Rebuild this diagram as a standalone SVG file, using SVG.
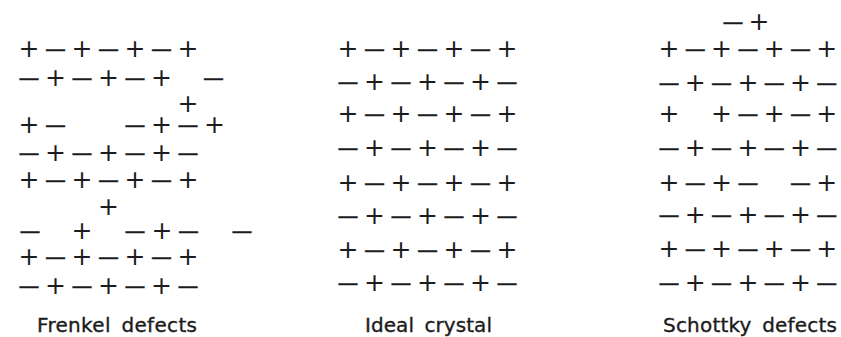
<svg xmlns="http://www.w3.org/2000/svg" width="841" height="337" viewBox="0 0 841 337">
<style>
.p{font-family:"DejaVu Sans",sans-serif;font-size:25px;fill:#1c1c1c;text-anchor:middle}
.m{font-family:"DejaVu Sans",sans-serif;font-size:21px;fill:#1c1c1c;text-anchor:middle;stroke:#1c1c1c;stroke-width:0.3}
.lbl{font-family:"DejaVu Sans",sans-serif;font-size:20px;fill:#1c1c1c;stroke:#1c1c1c;stroke-width:0.35;word-spacing:4px}
</style>
<rect width="841" height="337" fill="#fff"/>
<g id="frenkel">
<g transform="translate(0,48)"><text class="p" x="29" y="8.5">+</text><text class="m" x="55.5" y="7.7">—</text><text class="p" x="82" y="8.5">+</text><text class="m" x="108.5" y="7.7">—</text><text class="p" x="135" y="8.5">+</text><text class="m" x="161.5" y="7.7">—</text><text class="p" x="188" y="8.5">+</text></g>
<g transform="translate(0,77)"><text class="m" x="29" y="7.7">—</text><text class="p" x="55.5" y="8.5">+</text><text class="m" x="82" y="7.7">—</text><text class="p" x="108.5" y="8.5">+</text><text class="m" x="135" y="7.7">—</text><text class="p" x="161.5" y="8.5">+</text><text class="m" x="213.5" y="7.7">—</text></g>
<g transform="translate(0,103)"><text class="p" x="188" y="8.5">+</text></g>
<g transform="translate(0,124)"><text class="p" x="29" y="8.5">+</text><text class="m" x="55.5" y="7.7">—</text><text class="m" x="135" y="7.7">—</text><text class="p" x="161.5" y="8.5">+</text><text class="m" x="188" y="7.7">—</text><text class="p" x="214.5" y="8.5">+</text></g>
<g transform="translate(0,152)"><text class="m" x="29" y="7.7">—</text><text class="p" x="55.5" y="8.5">+</text><text class="m" x="82" y="7.7">—</text><text class="p" x="108.5" y="8.5">+</text><text class="m" x="135" y="7.7">—</text><text class="p" x="161.5" y="8.5">+</text><text class="m" x="188" y="7.7">—</text></g>
<g transform="translate(0,179)"><text class="p" x="29" y="8.5">+</text><text class="m" x="55.5" y="7.7">—</text><text class="p" x="82" y="8.5">+</text><text class="m" x="108.5" y="7.7">—</text><text class="p" x="135" y="8.5">+</text><text class="m" x="161.5" y="7.7">—</text><text class="p" x="188" y="8.5">+</text></g>
<g transform="translate(0,206)"><text class="p" x="108.5" y="8.5">+</text></g>
<g transform="translate(0,230)"><text class="m" x="30" y="7.7">—</text><text class="p" x="82" y="8.5">+</text><text class="m" x="135" y="7.7">—</text><text class="p" x="162" y="8.5">+</text><text class="m" x="188.5" y="7.7">—</text><text class="m" x="242" y="7.7">—</text></g>
<g transform="translate(0,256)"><text class="p" x="29" y="8.5">+</text><text class="m" x="55.5" y="7.7">—</text><text class="p" x="82" y="8.5">+</text><text class="m" x="108.5" y="7.7">—</text><text class="p" x="135" y="8.5">+</text><text class="m" x="161.5" y="7.7">—</text><text class="p" x="188" y="8.5">+</text></g>
<g transform="translate(0,285)"><text class="m" x="29" y="7.7">—</text><text class="p" x="55.5" y="8.5">+</text><text class="m" x="82" y="7.7">—</text><text class="p" x="108.5" y="8.5">+</text><text class="m" x="135" y="7.7">—</text><text class="p" x="161.5" y="8.5">+</text><text class="m" x="188" y="7.7">—</text></g>
<text class="lbl" x="37" y="332" textLength="160" lengthAdjust="spacing">Frenkel defects</text>
</g>
<g id="ideal">
<g transform="translate(0,48)"><text class="p" x="348" y="8.5">+</text><text class="m" x="374.5" y="7.7">—</text><text class="p" x="401" y="8.5">+</text><text class="m" x="427.5" y="7.7">—</text><text class="p" x="454" y="8.5">+</text><text class="m" x="480.5" y="7.7">—</text><text class="p" x="507" y="8.5">+</text></g>
<g transform="translate(0,81)"><text class="m" x="348" y="7.7">—</text><text class="p" x="374.5" y="8.5">+</text><text class="m" x="401" y="7.7">—</text><text class="p" x="427.5" y="8.5">+</text><text class="m" x="454" y="7.7">—</text><text class="p" x="480.5" y="8.5">+</text><text class="m" x="507" y="7.7">—</text></g>
<g transform="translate(0,113)"><text class="p" x="348" y="8.5">+</text><text class="m" x="374.5" y="7.7">—</text><text class="p" x="401" y="8.5">+</text><text class="m" x="427.5" y="7.7">—</text><text class="p" x="454" y="8.5">+</text><text class="m" x="480.5" y="7.7">—</text><text class="p" x="507" y="8.5">+</text></g>
<g transform="translate(0,147)"><text class="m" x="348" y="7.7">—</text><text class="p" x="374.5" y="8.5">+</text><text class="m" x="401" y="7.7">—</text><text class="p" x="427.5" y="8.5">+</text><text class="m" x="454" y="7.7">—</text><text class="p" x="480.5" y="8.5">+</text><text class="m" x="507" y="7.7">—</text></g>
<g transform="translate(0,182)"><text class="p" x="348" y="8.5">+</text><text class="m" x="374.5" y="7.7">—</text><text class="p" x="401" y="8.5">+</text><text class="m" x="427.5" y="7.7">—</text><text class="p" x="454" y="8.5">+</text><text class="m" x="480.5" y="7.7">—</text><text class="p" x="507" y="8.5">+</text></g>
<g transform="translate(0,215)"><text class="m" x="348" y="7.7">—</text><text class="p" x="374.5" y="8.5">+</text><text class="m" x="401" y="7.7">—</text><text class="p" x="427.5" y="8.5">+</text><text class="m" x="454" y="7.7">—</text><text class="p" x="480.5" y="8.5">+</text><text class="m" x="507" y="7.7">—</text></g>
<g transform="translate(0,249)"><text class="p" x="348" y="8.5">+</text><text class="m" x="374.5" y="7.7">—</text><text class="p" x="401" y="8.5">+</text><text class="m" x="427.5" y="7.7">—</text><text class="p" x="454" y="8.5">+</text><text class="m" x="480.5" y="7.7">—</text><text class="p" x="507" y="8.5">+</text></g>
<g transform="translate(0,282)"><text class="m" x="348" y="7.7">—</text><text class="p" x="374.5" y="8.5">+</text><text class="m" x="401" y="7.7">—</text><text class="p" x="427.5" y="8.5">+</text><text class="m" x="454" y="7.7">—</text><text class="p" x="480.5" y="8.5">+</text><text class="m" x="507" y="7.7">—</text></g>
<text class="lbl" x="365" y="332" textLength="127" lengthAdjust="spacing">Ideal crystal</text>
</g>
<g id="schottky">
<g transform="translate(0,21)"><text class="m" x="733" y="7.7">—</text><text class="p" x="759" y="8.5">+</text></g>
<g transform="translate(0,48)"><text class="p" x="669" y="8.5">+</text><text class="m" x="695.3" y="7.7">—</text><text class="p" x="721.6" y="8.5">+</text><text class="m" x="747.9" y="7.7">—</text><text class="p" x="774.2" y="8.5">+</text><text class="m" x="800.5" y="7.7">—</text><text class="p" x="826.8" y="8.5">+</text></g>
<g transform="translate(0,82)"><text class="m" x="669" y="7.7">—</text><text class="p" x="695.3" y="8.5">+</text><text class="m" x="721.6" y="7.7">—</text><text class="p" x="747.9" y="8.5">+</text><text class="m" x="774.2" y="7.7">—</text><text class="p" x="800.5" y="8.5">+</text><text class="m" x="826.8" y="7.7">—</text></g>
<g transform="translate(0,113)"><text class="p" x="669" y="8.5">+</text><text class="p" x="721.6" y="8.5">+</text><text class="m" x="747.9" y="7.7">—</text><text class="p" x="774.2" y="8.5">+</text><text class="m" x="800.5" y="7.7">—</text><text class="p" x="826.8" y="8.5">+</text></g>
<g transform="translate(0,147)"><text class="m" x="669" y="7.7">—</text><text class="p" x="695.3" y="8.5">+</text><text class="m" x="721.6" y="7.7">—</text><text class="p" x="747.9" y="8.5">+</text><text class="m" x="774.2" y="7.7">—</text><text class="p" x="800.5" y="8.5">+</text><text class="m" x="826.8" y="7.7">—</text></g>
<g transform="translate(0,182)"><text class="p" x="669" y="8.5">+</text><text class="m" x="695.3" y="7.7">—</text><text class="p" x="721.6" y="8.5">+</text><text class="m" x="747.9" y="7.7">—</text><text class="m" x="800.5" y="7.7">—</text><text class="p" x="826.8" y="8.5">+</text></g>
<g transform="translate(0,214)"><text class="m" x="669" y="7.7">—</text><text class="p" x="695.3" y="8.5">+</text><text class="m" x="721.6" y="7.7">—</text><text class="p" x="747.9" y="8.5">+</text><text class="m" x="774.2" y="7.7">—</text><text class="p" x="800.5" y="8.5">+</text><text class="m" x="826.8" y="7.7">—</text></g>
<g transform="translate(0,248)"><text class="p" x="669" y="8.5">+</text><text class="m" x="695.3" y="7.7">—</text><text class="p" x="721.6" y="8.5">+</text><text class="m" x="747.9" y="7.7">—</text><text class="p" x="774.2" y="8.5">+</text><text class="m" x="800.5" y="7.7">—</text><text class="p" x="826.8" y="8.5">+</text></g>
<g transform="translate(0,282)"><text class="m" x="669" y="7.7">—</text><text class="p" x="695.3" y="8.5">+</text><text class="m" x="721.6" y="7.7">—</text><text class="p" x="747.9" y="8.5">+</text><text class="m" x="774.2" y="7.7">—</text><text class="p" x="800.5" y="8.5">+</text><text class="m" x="826.8" y="7.7">—</text></g>
<text class="lbl" x="663" y="332" textLength="174" lengthAdjust="spacing">Schottky defects</text>
</g>
</svg>
